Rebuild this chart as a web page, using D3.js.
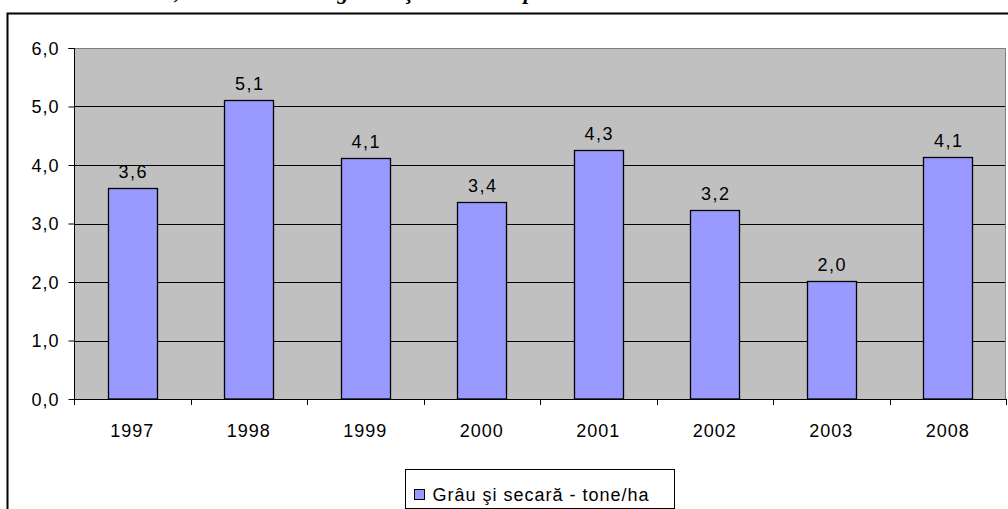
<!DOCTYPE html>
<html>
<head>
<meta charset="utf-8">
<script src="https://cdn.jsdelivr.net/npm/d3@7"></script>
<style>
  body { margin: 0; background: #fff; }
  svg text { font-family: "Liberation Sans", Arial, sans-serif; }
</style>
</head>
<body>
<div class="chart"></div>
<script>
var svgWidth = 1008;
var svgHeight = 509;

// data
var years = ["1997", "1998", "1999", "2000", "2001", "2002", "2003", "2008"];
var yields = [3.6, 5.11, 4.12, 3.37, 4.26, 3.23, 2.02, 4.14];
var yTicks = [0, 1, 2, 3, 4, 5, 6];
var seriesName = "Grâu şi secară - tone/ha";

// plot area inside the chart box
var margin = { top: 48, right: 2, bottom: 110, left: 74 };
var width = svgWidth - margin.left - margin.right;
var height = svgHeight - margin.top - margin.bottom;
var fontSize = "18px";

var svg = d3.select(".chart")
  .append("svg")
  .attr("width", svgWidth)
  .attr("height", svgHeight);

// title, mostly cut off by the top of the page
var title = svg.append("text")
  .attr("y", -1)
  .style("font-family", "'Liberation Serif', 'Times New Roman', serif")
  .style("font-weight", "bold")
  .style("font-style", "italic")
  .style("font-size", "22px");
title.append("tspan").attr("x", 99).text("Anexa 3,");
title.append("tspan").attr("x", 186).text("Randamentul la grâu");
title.append("tspan").attr("x", 405).text("şi secară");
title.append("tspan").attr("x", 500).text("în perioada 1997-2008");

// chart border
svg.append("rect")
  .attr("x", 7.5)
  .attr("y", 13.5)
  .attr("width", 1100)
  .attr("height", 600)
  .attr("fill", "none")
  .attr("stroke", "#000")
  .attr("stroke-width", 2);

var chartGroup = svg.append("g")
  .attr("transform", `translate(${margin.left}, ${margin.top})`);

var x_scale = d3.scaleBand()
  .domain(years)
  .range([0, width])
  .paddingInner(0.58)
  .paddingOuter(0.29);

var x_cat = d3.scaleBand().domain(years).range([0, width]);

var y_scale = d3.scaleLinear()
  .domain([0, 6])
  .range([height, 0]);

// plot area background
chartGroup.append("rect")
  .attr("width", width)
  .attr("height", height)
  .attr("fill", "#C0C0C0");

// gridlines
chartGroup.selectAll("line.grid")
  .data(yTicks.filter(d => d > 0 && d < 6))
  .enter()
  .append("line")
  .attr("class", "grid")
  .attr("x1", 0)
  .attr("x2", width)
  .attr("y1", d => Math.round(y_scale(d)) + 0.5)
  .attr("y2", d => Math.round(y_scale(d)) + 0.5)
  .attr("stroke", "#000");

// top / right border of plot area
chartGroup.append("path")
  .attr("d", `M0,0.5H${width - 0.5}V${height}`)
  .attr("fill", "none")
  .attr("stroke", "#808080");

// bars
chartGroup.selectAll("rect.bar")
  .data(yields)
  .enter()
  .append("rect")
  .attr("class", "bar")
  .attr("x", (d, i) => Math.round(x_scale(years[i])) + 0.5)
  .attr("y", d => Math.round(y_scale(d)) + 0.5)
  .attr("width", Math.round(x_scale.bandwidth()))
  .attr("height", d => height - Math.round(y_scale(d)) - 0.5)
  .attr("fill", "#9999FF")
  .attr("stroke", "#000")
  .attr("stroke-width", 1.3);

// value labels
chartGroup.selectAll("text.val")
  .data(yields)
  .enter()
  .append("text")
  .attr("class", "val")
  .attr("x", (d, i) => x_scale(years[i]) + x_scale.bandwidth() / 2 + 1)
  .attr("y", d => y_scale(d) - 10)
  .attr("text-anchor", "middle")
  .style("font-size", fontSize)
  .style("letter-spacing", "1.5px")
  .text(d => d.toFixed(1).replace(".", ","));

// y axis
var leftAxis = d3.axisLeft(y_scale)
  .tickValues(yTicks)
  .tickSize(6)
  .tickPadding(9)
  .tickFormat(d => d.toFixed(1).replace(".", ","));

var yAxis = chartGroup.append("g")
  .attr("transform", "translate(0.5,0)")
  .call(leftAxis);
yAxis.select(".domain").attr("d", `M-6,0.5H0V${height}`).attr("stroke", "#000");
yAxis.selectAll("text")
  .style("font-size", fontSize)
  .style("letter-spacing", "1px")
  .attr("fill", "#000")
  .attr("dy", "0.35em");

// x axis, ticks between categories
var bottomAxis = d3.axisBottom(x_cat).tickSize(0).tickPadding(25);
var xAxis = chartGroup.append("g")
  .attr("transform", `translate(0, ${height + 0.5})`)
  .call(bottomAxis);
xAxis.select(".domain").attr("d", `M0,0H${width}`).attr("stroke", "#000");
xAxis.selectAll("text")
  .style("font-size", fontSize)
  .style("letter-spacing", "1px")
  .attr("fill", "#000")
  .attr("dy", "0.71em");

chartGroup.selectAll("line.xtick")
  .data(years.concat(["end"]))
  .enter()
  .append("line")
  .attr("class", "xtick")
  .attr("x1", (d, i) => Math.round(i * x_cat.step()) + 0.5)
  .attr("x2", (d, i) => Math.round(i * x_cat.step()) + 0.5)
  .attr("y1", height)
  .attr("y2", height + 6)
  .attr("stroke", "#000");

// legend
var legend = svg.append("g").attr("transform", "translate(405.5, 469.5)");
legend.append("rect")
  .attr("width", 269)
  .attr("height", 39)
  .attr("fill", "#fff")
  .attr("stroke", "#000");
legend.append("rect")
  .attr("x", 9)
  .attr("y", 20)
  .attr("width", 10)
  .attr("height", 10)
  .attr("fill", "#9999FF")
  .attr("stroke", "#000");
legend.append("text")
  .attr("x", 27)
  .attr("y", 31)
  .style("font-size", fontSize)
  .style("letter-spacing", "1px")
  .text(seriesName);
</script>
</body>
</html>
